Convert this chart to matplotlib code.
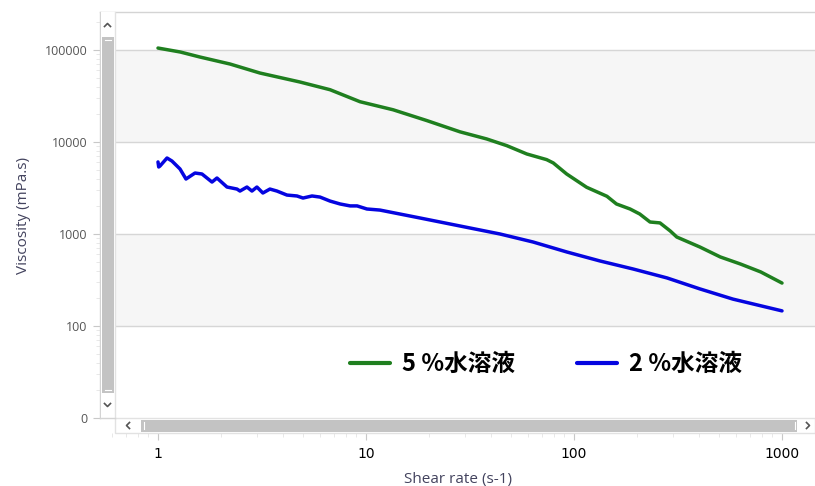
import matplotlib
matplotlib.use("Agg")
import matplotlib.pyplot as plt
from matplotlib.patches import Rectangle
from matplotlib.lines import Line2D

# ---- data -------------------------------------------------------------
shear_5 = [1.0, 1.28, 1.59, 2.22, 3.09, 4.81, 6.72, 9.36, 13.5, 19.6, 28.3,
           38.0, 47.5, 59.3, 73.9, 79.5, 92.2, 115, 144, 160, 186, 207, 232,
           259, 290, 312, 403, 505, 631, 790, 1000]
visc_5 = [105000, 95100, 83900, 70400, 56200, 44900, 37000, 27400, 22400,
          17100, 12900, 10800, 9130, 7410, 6430, 5920, 4490, 3220, 2570,
          2120, 1870, 1650, 1350, 1320, 1080, 927, 722, 563, 472, 387, 293]

shear_2 = [1.0, 1.008, 1.022, 1.105, 1.167, 1.276, 1.363, 1.506, 1.627,
           1.818, 1.921, 2.146, 2.398, 2.478, 2.677, 2.829, 2.989, 3.193,
           3.452, 3.731, 4.168, 4.657, 4.979, 5.502, 6.011, 6.717, 7.507,
           8.39, 9.06, 10.1, 11.67, 18.18, 28.3, 44.1, 63.5, 92.5, 133.4,
           192, 280, 403, 581, 1000]
visc_2 = [6070, 5350, 5480, 6700, 6210, 5090, 3960, 4600, 4490, 3670, 4060,
          3240, 3080, 2930, 3240, 2930, 3240, 2790, 3080, 2930, 2650, 2590,
          2460, 2590, 2520, 2280, 2120, 2020, 2020, 1870, 1820, 1493, 1222,
          1000, 819, 637, 509, 417, 333, 253, 196, 146]

series_labels = ["5 %水溶液", "2 %水溶液"]
y_ticks = [10, 100, 1000, 10000, 100000]
y_tick_labels = ["0", "100", "1000", "10000", "100000"]
x_ticks = [1, 10, 100, 1000]
x_tick_labels = ["1", "10", "100", "1000"]

# ---- figure -----------------------------------------------------------
W, H = 815, 486
fig = plt.figure(figsize=(W / 100, H / 100), dpi=100)
fig.patch.set_facecolor("white")


def fx(px):
    return px / W


def fy(py):
    return 1 - py / H


def frect(x0, y0, x1, y1, **kw):
    r = Rectangle((fx(x0), fy(y1)), fx(x1) - fx(x0), fy(y0) - fy(y1),
                  transform=fig.transFigure, **kw)
    fig.add_artist(r)
    return r


def fline(xs, ys, **kw):
    ln = Line2D([fx(v) for v in xs], [fy(v) for v in ys],
                transform=fig.transFigure, **kw)
    fig.add_artist(ln)
    return ln


ax_l, ax_r, ax_t, ax_b = 100, 815, 12, 418
ax = fig.add_axes([fx(ax_l), fy(ax_b), fx(ax_r) - fx(ax_l), fy(ax_t) - fy(ax_b)])
ax.set_xscale("log")
ax.set_yscale("log")
ax.set_xlim(10 ** (-58 / 208), 10 ** (657 / 208))
ax.set_ylim(10, 10 ** (1 + 406 / 92))

# alternating background bands and grid
band = "#f6f6f6"
ax.axhspan(10000, 100000, color=band, zorder=0, lw=0)
ax.axhspan(100, 1000, color=band, zorder=0, lw=0)
for v in [100, 1000, 10000, 100000]:
    ax.axhline(v, color="#d6d6d6", lw=1.0, zorder=1)

green = "#1f7f1f"
blue = "#0505e0"
ax.plot(shear_5, visc_5, color=green, lw=2.5, solid_capstyle="round",
        solid_joinstyle="round", zorder=3, label=series_labels[0])
ax.plot(shear_2, visc_2, color=blue, lw=2.5, solid_capstyle="round",
        solid_joinstyle="round", zorder=3, label=series_labels[1])

# ticks
tick_font = dict(family=["Open Sans", "DejaVu Sans"], size=9, color="#555555")
ax.set_yticks(y_ticks)
ax.set_yticklabels(y_tick_labels, fontdict=tick_font)
ax.set_xticks(x_ticks)
ax.set_xticklabels(x_tick_labels, fontdict=tick_font)
ax.tick_params(axis="both", which="major", length=5, width=0.8,
               color="#c8c8c8", pad=4)
ax.tick_params(axis="both", which="minor", length=3, width=0.6,
               color="#e4e4e4")
ax.tick_params(axis="x", which="major", pad=5)
ax.yaxis.set_minor_formatter(matplotlib.ticker.NullFormatter())
ax.xaxis.set_minor_formatter(matplotlib.ticker.NullFormatter())

for side in ["right", "bottom"]:
    ax.spines[side].set_visible(False)
for side in ["left", "top"]:
    ax.spines[side].set_color("#d4d4d4")
    ax.spines[side].set_linewidth(1.0)
ax.spines["bottom"].set_position(("outward", 15 * 72 / 100))

label_color = "#43435e"
label_font = dict(family=["Open Sans", "DejaVu Sans"], size=11, color=label_color)
ax.set_ylabel("Viscosity (mPa.s)", fontdict=label_font, labelpad=10)
ax.set_xlabel("Shear rate (s-1)", fontdict=label_font, labelpad=8)

# legend
leg = ax.legend(loc="center", bbox_to_anchor=(fx(546), fy(364)),
                bbox_transform=fig.transFigure, ncol=2, frameon=False,
                handlelength=1.7, handletextpad=0.5, columnspacing=2.65,
                prop=dict(family=["Noto Sans CJK JP", "DejaVu Sans"],
                          weight="bold", size=17))
for h in leg.get_lines():
    h.set_linewidth(3.0)

# ---- scrollbars -------------------------------------------------------
sb_gray = "#c3c3c3"
edge = "#e2e2e2"
arrow_col = "#555555"

# vertical scrollbar inside the left of the plot
frect(100.5, 12.5, 115, 417.5, facecolor="white", edgecolor="none", zorder=5)
frect(101.5, 37, 113.5, 393, facecolor=sb_gray, edgecolor="none", zorder=6)
fline([104.5, 110.5], [40, 40], color="white", lw=0.8, zorder=7)
fline([104.5, 110.5], [390, 390], color="white", lw=0.8, zorder=7)
fline([115, 115], [12.5, 418], color=edge, lw=1.0, zorder=7)
fline([104.5, 107.5, 110.5], [26.5, 23.5, 26.5], color=arrow_col, lw=1.2, zorder=7)
fline([104.5, 107.5, 110.5], [403.5, 406.5, 403.5], color=arrow_col, lw=1.2, zorder=7)

# bottom frame line and horizontal scrollbar
fline([100, 115], [417.5, 417.5], color="#d4d4d4", lw=1.0, zorder=7)
frect(115, 418, 815, 433, facecolor="white", edgecolor=edge, lw=1.0, zorder=5)
frect(141, 419.5, 797, 431.5, facecolor=sb_gray, edgecolor="none", zorder=6)
fline([143.5, 143.5], [422, 429], color="white", lw=0.8, zorder=7)
fline([794.5, 794.5], [422, 429], color="white", lw=0.8, zorder=7)
fline([129.5, 126.5, 129.5], [422.5, 425.5, 428.5], color=arrow_col, lw=1.2, zorder=7)
fline([806.5, 809.5, 806.5], [422.5, 425.5, 428.5], color=arrow_col, lw=1.2, zorder=7)

fig.savefig("out.png", dpi=100)
